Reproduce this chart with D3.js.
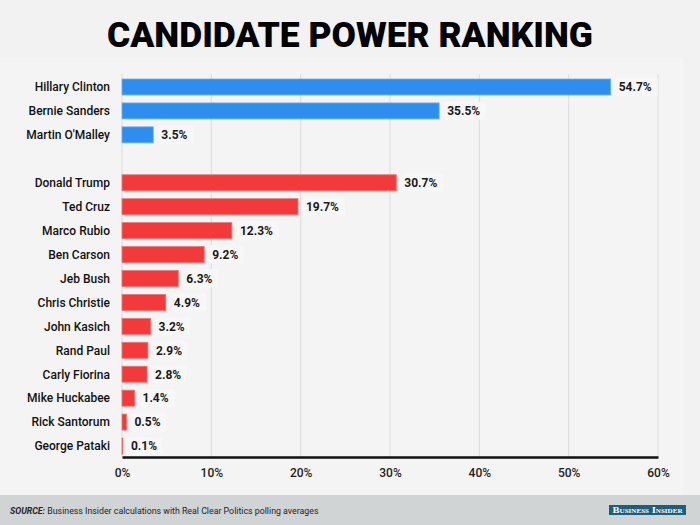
<!DOCTYPE html>
<html><head><meta charset="utf-8">
<script src="https://cdn.jsdelivr.net/npm/d3@7"></script>
<style>body{margin:0;background:#f2f2f2;}svg{display:block;}</style>
</head><body>
<script>
const candidates = ["Hillary Clinton","Bernie Sanders","Martin O'Malley","","Donald Trump","Ted Cruz","Marco Rubio","Ben Carson","Jeb Bush","Chris Christie","John Kasich","Rand Paul","Carly Fiorina","Mike Huckabee","Rick Santorum","George Pataki"];
const values = [54.7,35.5,3.5,null,30.7,19.7,12.3,9.2,6.3,4.9,3.2,2.9,2.8,1.4,0.5,0.1];
const parties = ["D","D","D","","R","R","R","R","R","R","R","R","R","R","R","R"];
const xTicks = [0,10,20,30,40,50,60];
const titleText = "CANDIDATE POWER RANKING";
const sourceLabel = "SOURCE:";
const sourceText = " Business Insider calculations with Real Clear Politics polling averages";

const W=700,H=525;
const svg=d3.select("body").append("svg").attr("width",W).attr("height",H);
svg.append("rect").attr("width",W).attr("height",H).attr("fill","#f2f2f2");
svg.append("rect").attr("x",0).attr("y",58).attr("width",683).attr("height",437).attr("fill","#f4f4f4");
svg.append("rect").attr("x",0).attr("y",495).attr("width",W).attr("height",30).attr("fill","#d1d4d5");

svg.append("text").attr("x",350).attr("y",47).attr("text-anchor","middle")
  .attr("font-family","Roboto").attr("font-weight",900).attr("font-size",35)
  .attr("textLength",486).attr("lengthAdjust","spacingAndGlyphs")
  .attr("fill","#000").text(titleText);

const x=d3.scaleLinear().domain([0,60]).range([122,658]);
const y=d3.scaleBand().domain(d3.range(candidates.length)).range([75,458]).paddingInner(1/3).paddingOuter(1/6);

const g=svg.append("g");
g.selectAll("line.grid").data(xTicks).join("line")
  .attr("x1",d=>x(d)).attr("x2",d=>x(d)).attr("y1",74).attr("y2",457)
  .attr("stroke","#dcdcdc").attr("stroke-width",1);

const colors={D:"#2e8ef0",R:"#f23a3a"};
const strokes={D:"#6db0f5",R:"#f57373"};
const rows=candidates.map((c,i)=>({c,v:values[i],p:parties[i],i})).filter(d=>d.v!==null);

g.selectAll("rect.bar").data(rows).join("rect")
  .attr("x",x(0)).attr("y",d=>y(d.i)).attr("width",d=>x(d.v)-x(0)).attr("height",y.bandwidth())
  .attr("fill",d=>colors[d.p]).attr("stroke",d=>strokes[d.p]).attr("stroke-width",0.8);

g.selectAll("text.name").data(rows).join("text")
  .attr("x",110).attr("y",d=>y(d.i)+y.bandwidth()/2).attr("dy","0.36em")
  .attr("text-anchor","end").attr("font-family","Roboto").attr("font-weight",500).attr("font-size",12).attr("fill","#111")
  .text(d=>d.c);

const lab=g.selectAll("g.val").data(rows).join("g")
  .attr("transform",d=>`translate(${x(d.v)+8},${y(d.i)+y.bandwidth()/2})`);
lab.append("rect").attr("x",-3).attr("y",-9).attr("width",d=>d3.format(".1f")(d.v).length*7+14).attr("height",18).attr("fill","#f7f7f7");
lab.append("text").attr("dy","0.36em").attr("font-family","Roboto").attr("font-weight",700)
  .attr("font-size",12).attr("fill","#1a1a1a").text(d=>d3.format(".1f")(d.v)+"%");

const ax=svg.append("g").attr("transform","translate(0,457)")
  .call(d3.axisBottom(x).tickValues(xTicks).tickFormat(d=>d+"%").tickSize(0).tickPadding(11));
ax.select(".domain").attr("stroke","#111").attr("stroke-width",2.5);
ax.selectAll("text").attr("font-family","Roboto").attr("font-weight",500).attr("font-size",12).attr("fill","#222");

const st=svg.append("text").attr("x",10).attr("y",514).attr("font-family","Roboto").attr("font-size",8.8).attr("fill","#222");
st.append("tspan").attr("font-weight",700).attr("font-style","italic").text(sourceLabel);
st.append("tspan").text(sourceText);

svg.append("rect").attr("x",609).attr("y",505).attr("width",77).attr("height",10).attr("fill","#1c5e7e");
svg.append("text").attr("x",647.5).attr("y",513.3).attr("text-anchor","middle")
  .attr("font-family","Liberation Serif").attr("font-size",9).attr("font-weight",700).attr("fill","#fff")
  .attr("textLength",70).attr("lengthAdjust","spacingAndGlyphs")
  .style("font-variant","small-caps").text("Business Insider");
</script>
</body></html>
